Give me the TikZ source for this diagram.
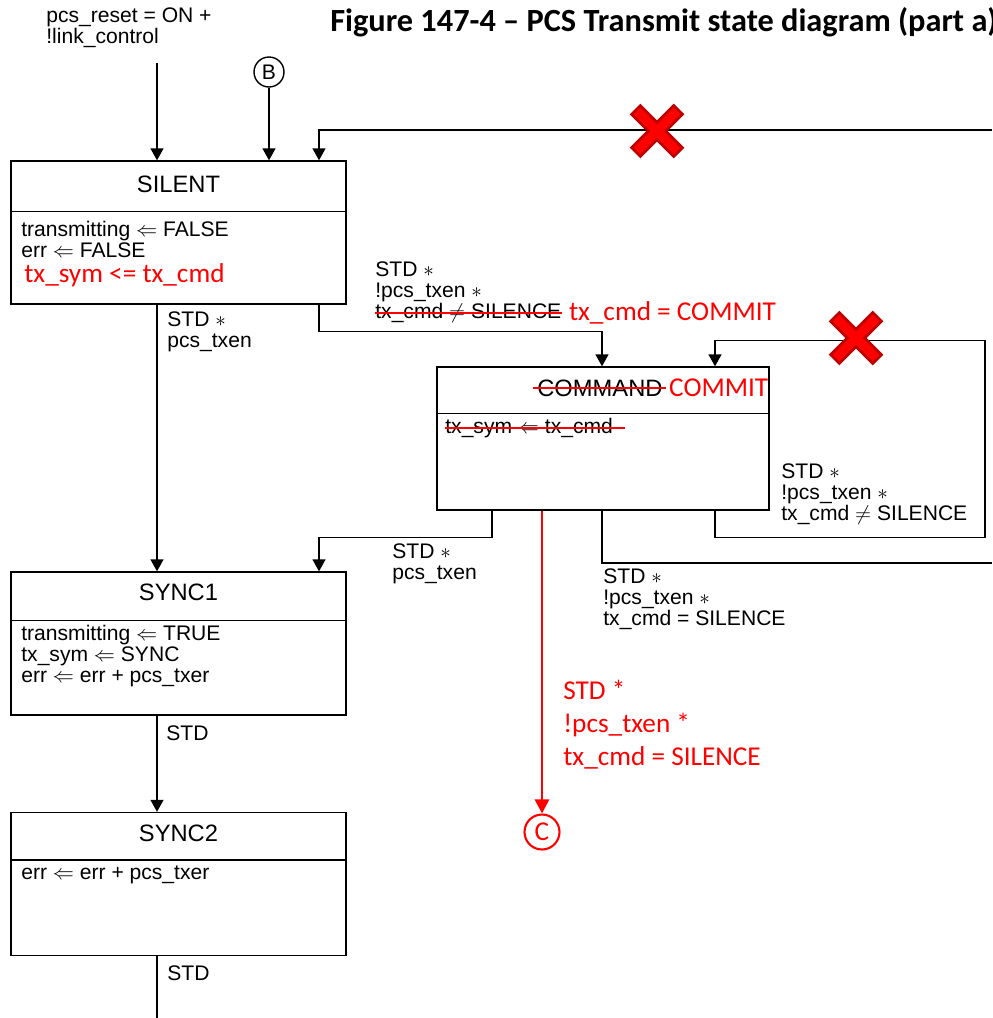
\documentclass[tikz,border=0pt]{standalone}
\usepackage{fontspec}
\setmainfont{Liberation Sans}
\newfontfamily\calfont{Carlito}
\usetikzlibrary{arrows.meta, positioning, calc}

\definecolor{markred}{HTML}{FF0000}
\definecolor{crossdark}{HTML}{C00000}

\tikzset{
  statebox/.style={draw, line width=0.8pt, minimum width=6.7cm, minimum height=2.86cm, inner sep=0pt},
  statename/.style={inner sep=0pt, font=\fontsize{13.5}{15}\selectfont},
  actions/.style={anchor=north west, align=left, inner sep=0pt, font=\fontsize{12}{12}\selectfont},
  cond/.style={anchor=west, align=left, inner sep=0pt, font=\fontsize{12}{12}\selectfont},
  redtext/.style={text=markred, anchor=west, align=left, inner sep=0pt, font=\calfont\fontsize{15.5}{18.8}\selectfont},
  figtitle/.style={anchor=west, inner sep=0pt, font=\calfont\bfseries\fontsize{18.4}{20}\selectfont},
  pcsline/.style={line width=0.8pt},
  pcsarrow/.style={line width=0.8pt, -{Triangle[width=0.26cm,length=0.24cm]}},
  redarrow/.style={markred, line width=1.6pt, -{Triangle[width=0.28cm,length=0.28cm]}},
  offpage/.style={circle, draw, line width=0.8pt, minimum size=0.6cm, inner sep=0pt, font=\fontsize{12}{12}\selectfont},
  strikeout/.style={markred, line width=1.1pt}
}

\begin{document}
\begin{tikzpicture}[x=0.02cm, y=-0.02cm]
  \useasboundingbox (0,0) rectangle (992,1018);
  % Title
  \node[figtitle] (title) at (330,22) {Figure 147-4 – PCS Transmit state diagram (part a)};

  % States
  \node[statebox] (silent) at (178.5,232.5) {};
  \node[statebox, minimum width=6.64cm] (commit) at (603,438.5) {};
  \node[statebox] (sync1) at (178.5,643.5) {};
  \node[statebox] (sync2) at (178.5,884) {};
  \foreach \s/\d in {silent/1.02, commit/0.94, sync1/0.98, sync2/0.96} {
    \draw[pcsline] ([yshift=-\d cm]\s.north west) -- ([yshift=-\d cm]\s.north east);
  }

  % State names
  \node[statename] (silentname) at (178.5,184) {SILENT};
  \node[statename] (sync1name) at (178.5,592) {SYNC1};
  \node[statename] (sync2name) at (178.5,833) {SYNC2};
  \node[statename, anchor=west] (cmdold) at (537,388) {COMMAND};
  \node[redtext, right=0.12cm of cmdold] (cmdnew) {COMMIT};
  \draw[strikeout] ([xshift=-2pt]cmdold.west) -- ([xshift=2pt]cmdold.east);

  % Actions
  \node[actions] (silentact) at (21,221) {transmitting $\Leftarrow$ FALSE\\err $\Leftarrow$ FALSE};
  \node[redtext] (silentred) at (24,275) {tx\_sym <= tx\_cmd};
  \node[cond] (cmdact) at (445,428) {tx\_sym $\Leftarrow$ tx\_cmd};
  \draw[strikeout] (cmdact.west) -- ([xshift=0.24cm]cmdact.east);
  \node[actions] (sync1act) at (21,625) {transmitting $\Leftarrow$ TRUE\\tx\_sym $\Leftarrow$ SYNC\\err $\Leftarrow$ err + pcs\_txer};
  \node[actions] (sync2act) at (21,866) {err $\Leftarrow$ err + pcs\_txer};

  % Off-page connectors
  \node[offpage] (connB) at (269,72) {B};
  \node[offpage, draw=markred, text=markred, line width=1.2pt, minimum size=0.7cm,
        font=\calfont\fontsize{15.5}{16}\selectfont] (connC) at (542,832) {C};

  % Columns and free ends
  \coordinate (colA) at (157,0);
  \coordinate (colC) at (319,0);
  \coordinate (cmdA) at (492,0);
  \coordinate (cmdR) at (542,0);
  \coordinate (cmdB) at (602,0);
  \coordinate (cmdL) at (715,0);
  \coordinate (resetin) at (157,63);
  \coordinate (rightin) at (992,130);
  \coordinate (rightout) at (992,563);
  \coordinate (downout) at (157,1018);

  % Transitions
  \node[cond] (resetlbl) at (46,28) {pcs\_reset = ON +\\!link\_control};
  \draw[pcsarrow] (resetin) -- (resetin |- silent.north);
  \draw[pcsarrow] (connB) -- (connB |- silent.north);
  \draw[pcsarrow] (rightin) -| (colC |- silent.north);

  \draw[pcsarrow] (colA |- silent.south) -- (colA |- sync1.north);
  \node[cond] (lblSY) at (167,332) {STD $\ast$\\pcs\_txen};

  \draw[pcsarrow] (colC |- silent.south) -- ++(0,27) -| (cmdB |- commit.north);
  \node[cond] (lblSC) at (375,282) {STD $\ast$\\!pcs\_txen $\ast$};
  \node[cond] (lblSCold) at (375,313) {tx\_cmd $\neq$ SILENCE};
  \draw[strikeout] (lblSCold.west) -- (lblSCold.east);
  \node[redtext, right=0.14cm of lblSCold] (lblSCnew) {tx\_cmd = COMMIT};

  \draw[pcsarrow] (cmdL |- commit.south) -- ++(0,27) -| ++(270,-197) -| (cmdL |- commit.north);
  \node[cond] (lblCC) at (781,494) {STD $\ast$\\!pcs\_txen $\ast$\\tx\_cmd $\neq$ SILENCE};

  \draw[pcsarrow] (cmdA |- commit.south) -- ++(0,27) -| (colC |- sync1.north);
  \node[cond] (lblCY) at (392,564) {STD $\ast$\\pcs\_txen};

  \draw[pcsline] (cmdB |- commit.south) |- (rightout);
  \node[cond] (lblCS) at (603,599) {STD $\ast$\\!pcs\_txen $\ast$\\tx\_cmd = SILENCE};

  \draw[redarrow] (cmdR |- commit.south) -- (connC);
  \node[redtext] (lblCred) at (563,725) {STD *\\!pcs\_txen *\\tx\_cmd = SILENCE};

  \draw[pcsarrow] (colA |- sync1.south) -- (colA |- sync2.north);
  \node[cond] (lblY1) at (166,733) {STD};
  \draw[pcsline] (colA |- sync2.south) -- (downout);
  \node[cond] (lblY2) at (167,973) {STD};

  % Crossed-out transitions
  \foreach \cx/\cy in {657/131, 856/338} {
    \draw[crossdark, line width=0.3cm] ({\cx-22},{\cy-22}) -- ({\cx+22},{\cy+22})
      ({\cx-22},{\cy+22}) -- ({\cx+22},{\cy-22});
    \draw[markred, line width=0.18cm] ({\cx-20},{\cy-20}) -- ({\cx+20},{\cy+20})
      ({\cx-20},{\cy+20}) -- ({\cx+20},{\cy-20});
  }
\end{tikzpicture}
\end{document}
